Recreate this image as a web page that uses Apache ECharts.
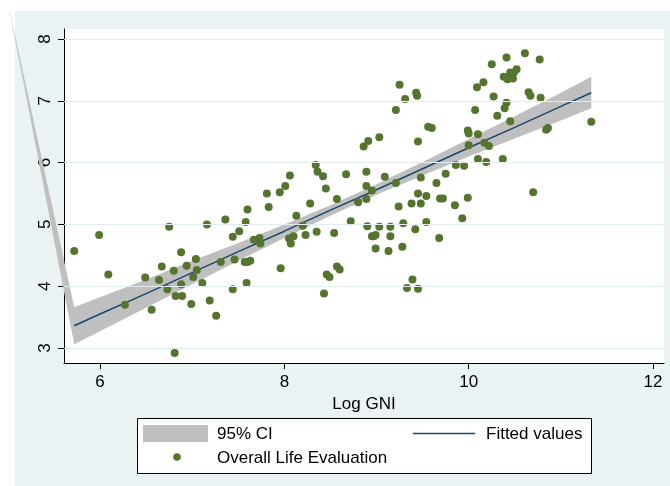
<!DOCTYPE html>
<html>
<head>
<meta charset="utf-8">
<script src="https://cdn.jsdelivr.net/npm/echarts@6/dist/echarts.min.js"></script>
<style>
  html, body { margin: 0; padding: 0; background: #ffffff; }
  #chart { width: 670px; height: 486px; }
</style>
</head>
<body>
<div id="chart"></div>
<script>
// Country-level log GNI per capita and overall life evaluation
const logGni = [
  5.72, 5.99, 6.09, 6.27, 6.49, 6.56, 6.75, 6.67, 6.64, 6.73,
  6.80, 6.88, 6.88, 6.82, 6.89, 6.81, 6.94, 7.04, 7.05, 7.01,
  7.11, 6.99, 7.19, 7.26, 7.16, 7.36, 7.31, 7.44, 7.44, 7.46,
  7.51, 7.58, 7.60, 7.57, 7.60, 7.63, 7.59, 7.67, 7.73, 7.74,
  7.81, 7.83, 7.95, 8.01, 8.06, 7.96, 8.05, 8.07, 8.10, 8.13,
  8.20, 8.23, 8.28, 8.34, 8.36, 8.42, 8.45, 8.35, 8.46, 8.49,
  8.43, 8.57, 8.54, 8.57, 8.60, 8.67, 8.72, 8.80, 8.86, 8.91,
  8.89, 8.89, 8.89, 8.95, 8.90, 8.95, 8.97, 8.99, 8.99, 9.45,
  9.09, 9.21, 9.48, 9.24, 9.38, 9.45, 9.48, 9.54, 9.65, 9.75,
  9.86, 9.95, 10.00, 10.10, 10.19, 9.69, 9.72, 9.85, 9.99, 9.93,
  9.03, 9.15, 9.15, 9.29, 9.42, 9.54, 9.68, 9.13, 9.28, 9.39,
  9.33, 9.45, 9.25, 9.31, 9.43, 9.44, 9.21, 9.03, 9.56, 9.60,
  10.25, 10.41, 10.61, 10.77, 10.09, 10.16, 10.27, 10.07, 10.31, 10.41,
  10.39, 10.38, 10.42, 10.45, 10.48, 10.52, 10.49, 10.65, 10.67, 10.78,
  10.45, 9.99, 10.00, 10.10, 10.17, 10.22, 10.84, 10.86, 11.33, 10.37,
  10.70
];
const lifeEval = [
  4.57, 4.83, 4.19, 3.70, 4.14, 3.62, 4.96, 4.32, 4.10, 3.95,
  4.25, 4.55, 4.03, 3.84, 3.84, 2.92, 4.33, 4.44, 4.26, 4.15,
  4.05, 3.71, 3.77, 3.52, 5.00, 5.08, 4.39, 4.80, 3.95, 4.43,
  4.89, 5.04, 5.24, 4.39, 4.39, 4.41, 4.05, 4.75, 4.78, 4.69,
  5.50, 5.28, 5.52, 5.62, 5.79, 4.29, 4.77, 4.69, 4.81, 5.14,
  4.98, 4.83, 5.34, 5.96, 5.85, 5.78, 5.58, 4.88, 4.19, 4.15,
  3.88, 5.41, 4.86, 4.32, 4.27, 5.81, 5.05, 5.36, 6.26, 6.35,
  5.85, 5.62, 5.41, 5.55, 4.97, 4.81, 4.81, 4.83, 4.61, 6.34,
  5.77, 5.67, 5.76, 5.29, 5.34, 5.50, 5.34, 5.46, 5.67, 5.82,
  5.96, 5.95, 6.28, 6.06, 6.01, 5.42, 5.42, 5.31, 5.43, 5.10,
  4.96, 4.96, 4.81, 5.02, 4.92, 5.04, 4.78, 4.57, 4.64, 4.11,
  3.97, 3.96, 7.26, 7.03, 7.13, 7.08, 6.85, 6.41, 6.58, 6.56,
  7.59, 7.70, 7.77, 7.67, 7.22, 7.30, 7.07, 6.85, 6.76, 6.97,
  6.88, 7.39, 7.35, 7.46, 7.36, 7.51, 7.46, 7.14, 7.08, 7.05,
  6.67, 6.52, 6.47, 6.46, 6.32, 6.27, 6.53, 6.56, 6.66, 6.06,
  5.52
];

// Linear fit with its 95% confidence band
const fitX   = [5.72, 6.0, 6.5, 7.0, 7.5, 8.0, 8.5, 9.0, 9.5, 10.0, 10.5, 11.0, 11.33];
const fitY   = [3.36, 3.55, 3.88, 4.22, 4.56, 4.89, 5.23, 5.56, 5.90, 6.24, 6.57, 6.91, 7.13];
const ciHigh = [3.66, 3.82, 4.11, 4.41, 4.70, 5.00, 5.31, 5.65, 6.01, 6.38, 6.75, 7.13, 7.39];
const ciLow  = [3.06, 3.27, 3.65, 4.03, 4.41, 4.78, 5.14, 5.48, 5.79, 6.10, 6.39, 6.68, 6.88];
// stray first vertex of the band polygon (lies outside the plot region)
const bandOrigin = [5.01, 8.52];

// Axis ticks
const xTicks = [6, 8, 10, 12];
const yTicks = [3, 4, 5, 6, 7, 8];

const FONT = '"Liberation Sans", Arial, Helvetica, sans-serif';
const GREEN = '#55752F';
const NAVY = '#1A476F';
const BAND = '#BFBFBF';
const BG = '#EAF2F3';

const chart = echarts.init(document.getElementById('chart'), null, { renderer: 'canvas' });

const points = logGni.map((x, i) => [x, lifeEval[i]]);
const bandRows = fitX.map((x, i) => [x, ciLow[i], ciHigh[i]]);

const option = {
  animation: false,
  backgroundColor: BG,
  textStyle: { fontFamily: FONT },
  grid: {
    left: 64, top: 29, width: 600, height: 334,
    show: true, backgroundColor: '#ffffff', borderWidth: 0
  },
  xAxis: {
    type: 'value',
    min: 5.609, max: 12.119,
    name: 'Log GNI',
    nameLocation: 'middle',
    nameGap: 25,
    nameTextStyle: { fontSize: 17, color: '#000', fontFamily: FONT },
    axisLine: { show: true, onZero: false, lineStyle: { color: '#000', width: 1 } },
    axisTick: { show: true, length: 6, customValues: xTicks, lineStyle: { color: '#000' } },
    axisLabel: { customValues: xTicks, fontSize: 17, color: '#000', margin: 11, fontFamily: FONT },
    splitLine: { show: false }
  },
  yAxis: {
    type: 'value',
    min: 2.757, max: 8.162,
    axisLine: { show: true, onZero: false, lineStyle: { color: '#000', width: 1 } },
    axisTick: { show: true, length: 6, customValues: yTicks, lineStyle: { color: '#000' } },
    axisLabel: { customValues: yTicks, rotate: 90, fontSize: 17, color: '#000', margin: 10, fontFamily: FONT },
    splitLine: { show: false }
  },
  graphic: [
    // white margin above and left of the shaded page area
    { type: 'rect', z: -100, silent: true, shape: { x: 0, y: 0, width: 670, height: 11 }, style: { fill: '#ffffff' } },
    { type: 'rect', z: -100, silent: true, shape: { x: 0, y: 0, width: 15, height: 486 }, style: { fill: '#ffffff' } },
    // legend
    { type: 'rect', z: 10, shape: { x: 137.5, y: 418.5, width: 454, height: 55 }, style: { fill: '#ffffff', stroke: '#000', lineWidth: 1 } },
    { type: 'rect', z: 11, shape: { x: 143, y: 425, width: 65, height: 17 }, style: { fill: BAND } },
    { type: 'text', z: 11, style: { text: '95% CI', x: 217, y: 434, font: '17px ' + FONT, fill: '#000', verticalAlign: 'middle' } },
    { type: 'line', z: 11, shape: { x1: 413, y1: 433.5, x2: 475, y2: 433.5 }, style: { stroke: NAVY, lineWidth: 1.5 } },
    { type: 'text', z: 11, style: { text: 'Fitted values', x: 486, y: 434, font: '17px ' + FONT, fill: '#000', verticalAlign: 'middle' } },
    { type: 'circle', z: 11, shape: { cx: 177, cy: 457, r: 3.8 }, style: { fill: GREEN } },
    { type: 'text', z: 11, style: { text: 'Overall Life Evaluation', x: 217, y: 458, font: '17px ' + FONT, fill: '#000', verticalAlign: 'middle' } }
  ],
  series: [
    {
      // horizontal grid lines at the y ticks
      type: 'line',
      data: [],
      z: 1,
      silent: true,
      markLine: {
        silent: true,
        symbol: 'none',
        label: { show: false },
        lineStyle: { color: '#E2EBEE', width: 1, type: 'solid' },
        data: yTicks.map(v => ({ yAxis: v }))
      }
    },
    {
      type: 'custom',
      z: 2,
      clip: false,
      silent: true,
      data: bandRows,
      renderItem: function (params, api) {
        if (params.dataIndex !== 0) return null;
        const pts = [api.coord(bandOrigin)];
        for (let i = 0; i < bandRows.length; i++) pts.push(api.coord([bandRows[i][0], bandRows[i][2]]));
        for (let i = bandRows.length - 1; i >= 0; i--) pts.push(api.coord([bandRows[i][0], bandRows[i][1]]));
        return { type: 'polygon', shape: { points: pts }, style: { fill: BAND } };
      }
    },
    {
      type: 'line',
      z: 3,
      silent: true,
      symbol: 'none',
      data: fitX.map((x, i) => [x, fitY[i]]),
      lineStyle: { color: NAVY, width: 1.5 }
    },
    {
      type: 'scatter',
      z: 4,
      silent: true,
      symbol: 'circle',
      symbolSize: 8,
      data: points,
      itemStyle: { color: GREEN, opacity: 1 }
    }
  ]
};

chart.setOption(option);
</script>
</body>
</html>
